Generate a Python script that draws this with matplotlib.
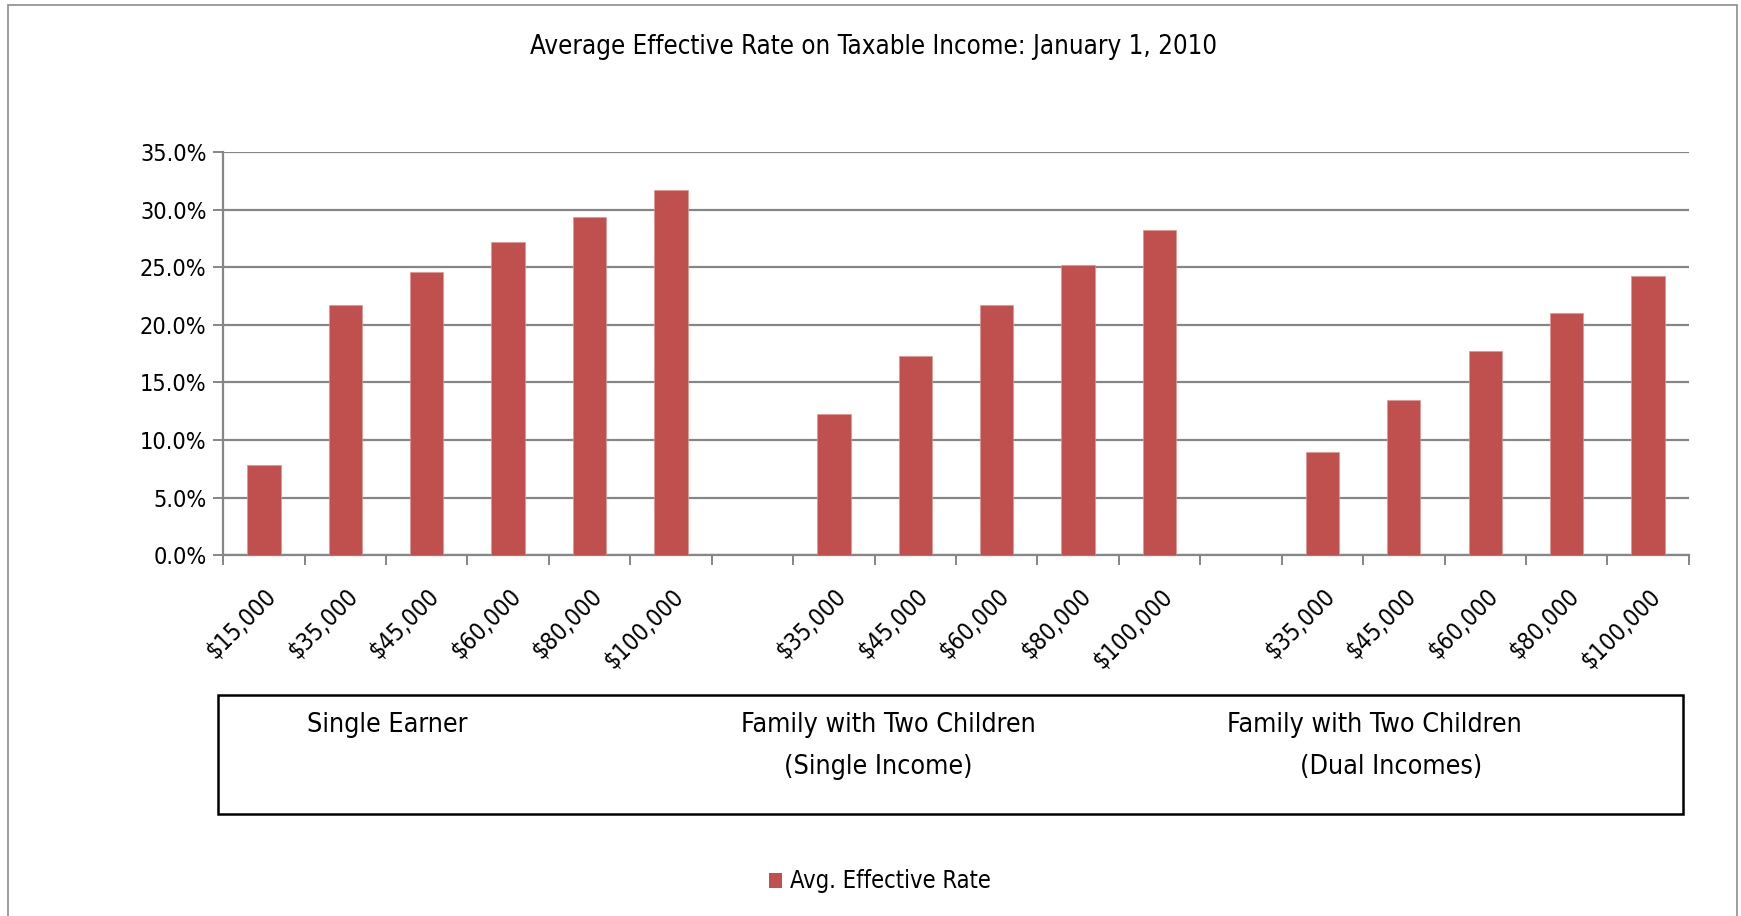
import numpy as np
import matplotlib.pyplot as plt
from matplotlib.patches import Rectangle
from matplotlib.ticker import FuncFormatter, MultipleLocator

# narrow sans to stand in for the Calibri look of the original
plt.rcParams['font.family'] = ['DejaVu Sans']
plt.rcParams['font.stretch'] = 'condensed'

# ── data ─────────────────────────────────────
income_labels = ["$15,000", "$35,000", "$45,000", "$60,000", "$80,000", "$100,000", "",
                 "$35,000", "$45,000", "$60,000", "$80,000", "$100,000", "",
                 "$35,000", "$45,000", "$60,000", "$80,000", "$100,000"]
single_earner = [7.8, 21.7, 24.6, 27.2, 29.4, 31.7]
family_single = [12.3, 17.3, 21.7, 25.2, 28.2]
family_dual   = [9.0, 13.5, 17.7, 21.0, 24.2]
group_names = ["Single Earner",
               "Family with Two Children\n(Single Income)",
               "Family with Two Children\n(Dual Incomes)"]

values = single_earner + [np.nan] + family_single + [np.nan] + family_dual
x = np.arange(len(values))

BAR   = "#C0504D"
GRID  = "#868686"

fig = plt.figure(figsize=(17.41, 9.16), dpi=100, facecolor="white")

# outer chart border
fig.add_artist(Rectangle((0.0045, -0.01), 0.993, 1.004, transform=fig.transFigure,
                         fill=False, edgecolor="#8c8c8c", linewidth=1.2))

ax = fig.add_axes([0.1282, 0.3939, 0.8418, 0.4401])
ax.bar(x, values, width=0.41, color=BAR, edgecolor="#d99694", linewidth=0.5, zorder=3)

ax.set_xlim(-0.5, len(values) - 0.5)
ax.set_ylim(0, 35)
ax.yaxis.set_major_locator(MultipleLocator(5))
ax.yaxis.set_major_formatter(FuncFormatter(lambda v, p: f"{v:.1f}%"))
ax.grid(axis="y", color=GRID, linewidth=1.6, zorder=0)
ax.set_axisbelow(True)

for s in ["top", "right"]:
    ax.spines[s].set_visible(False)
for s in ["left", "bottom"]:
    ax.spines[s].set_color(GRID)
    ax.spines[s].set_linewidth(1.6)

ax.set_xticks(x)
ax.set_xticklabels(income_labels, rotation=45, ha="right", va="top",
                   rotation_mode="anchor", fontsize=17)
ax.set_xticks(np.arange(-0.5, len(values), 1), minor=True)
ax.tick_params(axis="x", which="major", length=0, pad=21)
ax.tick_params(axis="x", which="minor", length=7, width=1.4, color=GRID)
ax.tick_params(axis="y", length=7, width=1.4, color=GRID, labelsize=16.8, pad=5)

fig.text(0.502, 0.949, "Average Effective Rate on Taxable Income: January 1, 2010",
         ha="center", va="center", fontsize=18.5)

# group label box
fig.add_artist(Rectangle((0.125, 0.1116), 0.8418, 0.1297, transform=fig.transFigure,
                         fill=False, edgecolor="black", linewidth=1.8))
fig.text(0.2226, 0.209, group_names[0], ha="center", va="center", fontsize=19.3)
g2 = group_names[1].split("\n")
g3 = group_names[2].split("\n")
fig.text(0.510, 0.209, g2[0], ha="center", va="center", fontsize=19.3)
fig.text(0.5044, 0.1629, g2[1], ha="center", va="center", fontsize=19.3)
fig.text(0.7896, 0.209, g3[0], ha="center", va="center", fontsize=19.3)
fig.text(0.7991, 0.1629, g3[1], ha="center", va="center", fontsize=19.3)

# legend
fig.add_artist(Rectangle((0.4415, 0.031), 0.0075, 0.0155, transform=fig.transFigure,
                         facecolor=BAR, edgecolor="none"))
fig.text(0.4535, 0.0385, "Avg. Effective Rate", ha="left", va="center", fontsize=17)

fig.savefig("out.png", dpi=100, facecolor="white")
